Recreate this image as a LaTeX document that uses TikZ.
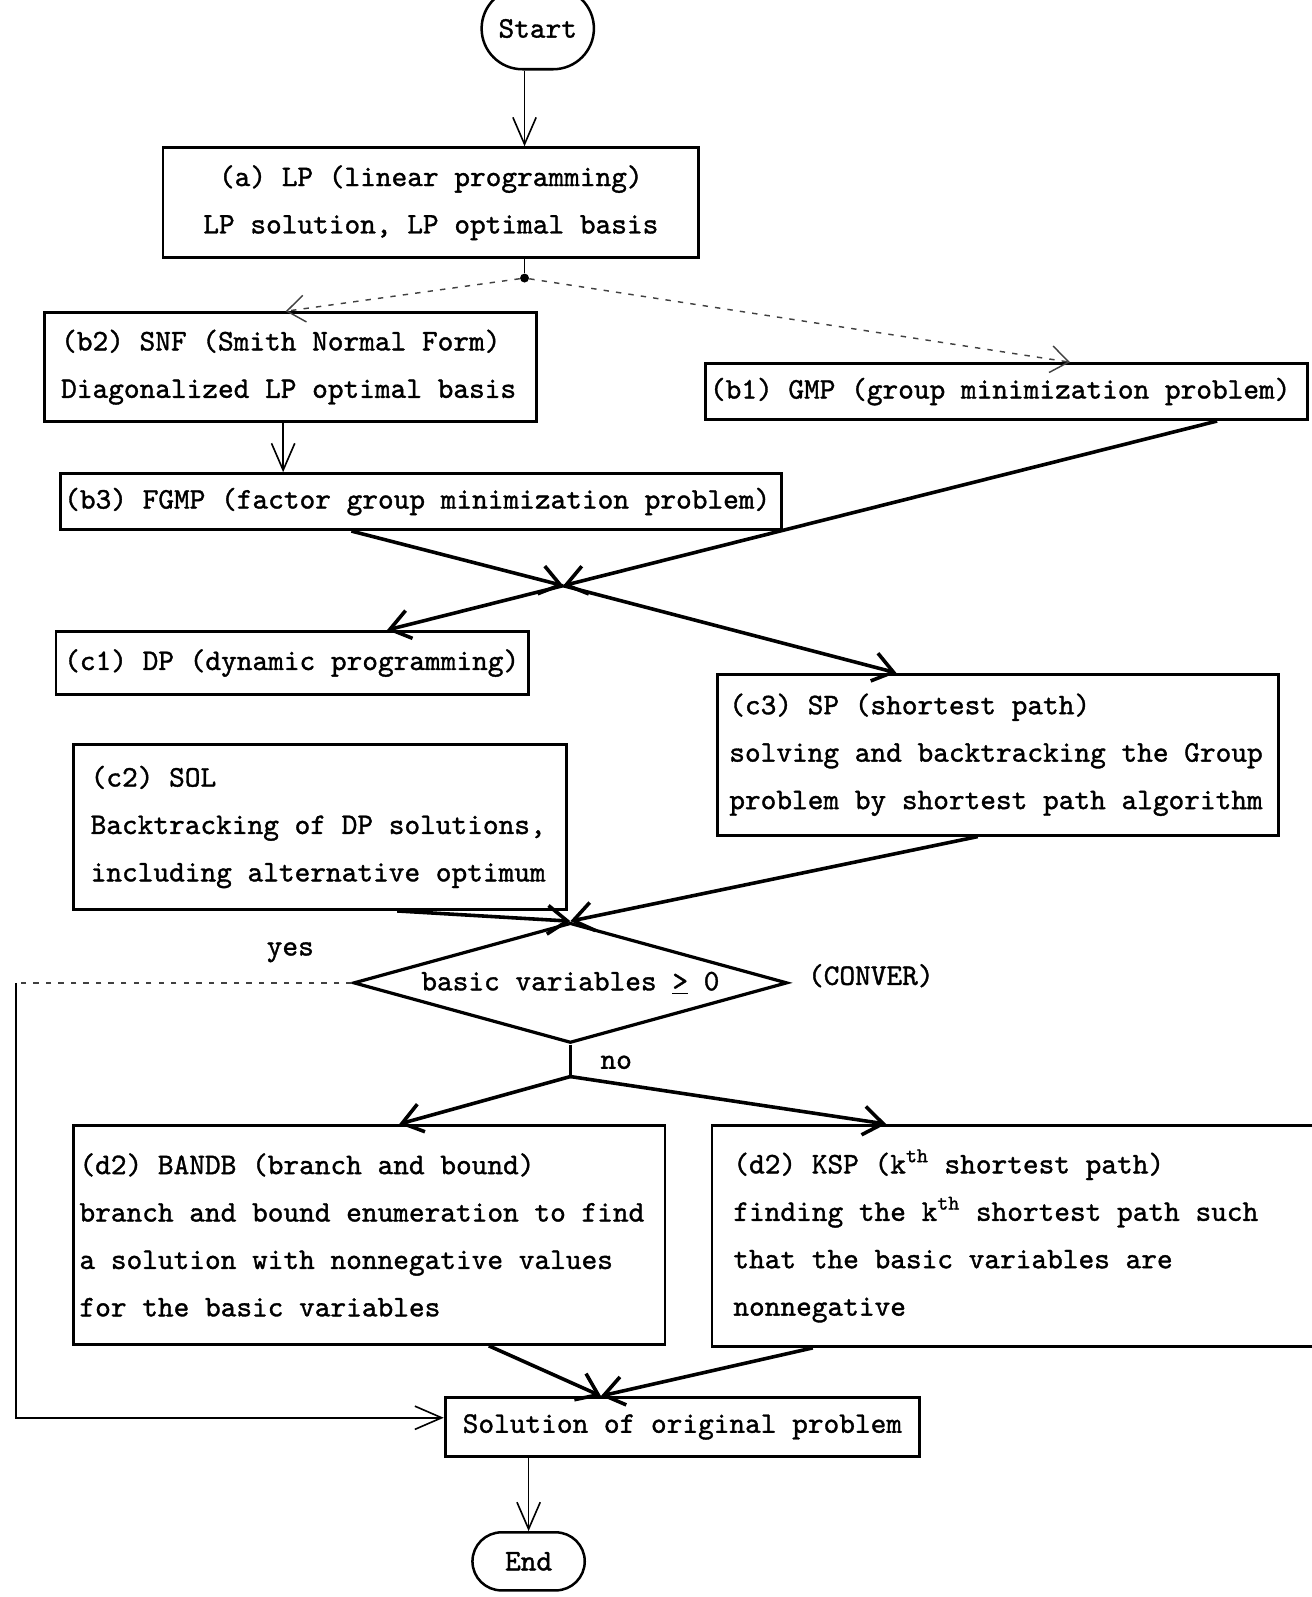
\documentclass[tikz,border=0pt]{standalone}
\usepackage{fontspec}
\newfontfamily\typer{lmmono10-regular}[Extension=.otf, FakeBold=1.2]
\usetikzlibrary{arrows.meta, shapes.misc, shapes.geometric}

\begin{document}
\begin{tikzpicture}[
    x=0.02cm, y=-0.02cm,
    txt/.style={font=\typer\fontsize{16.7}{26.5}\selectfont},
    box/.style={
        draw=black, rectangle, line width=1.6pt, align=flush left, txt,
        inner ysep=0pt
    },
    term/.style={
        draw=black, rounded rectangle, line width=1.4pt, txt, minimum width=2.44cm
    },
    test/.style={
        draw=black, diamond, shape aspect=3.6, line width=1.8pt, txt, inner sep=0pt,
        minimum width=8.52cm, minimum height=2.36cm
    },
    dotnode/.style={circle, fill=black, inner sep=0pt, minimum size=5pt},
    thinarrow/.style={-{Straight Barb[length=15pt, width=13pt]}, line width=0.9pt},
    arrow/.style={-{Straight Barb[length=11pt, width=16pt]}, line width=2pt},
    dashedarrow/.style={
        -{Straight Barb[length=10pt, width=15pt]}, line width=0.8pt, black!75,
        dash pattern=on 3pt off 4pt
    },
    lbl/.style={txt, inner sep=1pt}
]
\useasboundingbox (0,0) rectangle (1288,1568);

\node[term, minimum height=1.6cm] (start) at (528,28) {Start};
\node[box, align=center, minimum width=10.52cm, minimum height=2.16cm] (lp) at (423,199)
    {(a) LP (linear programming)\\LP solution, LP optimal basis};
\node[dotnode] (split) at (515,273) {};

\node[box, text width=9.02cm, inner xsep=0.32cm, minimum height=2.14cm] (snf) at (285.5,360.5)
    {(b2) SNF (Smith Normal Form)\\Diagonalized LP optimal basis};
\node[box, text width=11.66cm, inner xsep=0.08cm, minimum height=1.1cm] (gmp) at (988.5,384.5)
    {(b1) GMP (group minimization problem)};
\node[box, text width=14.0cm, inner xsep=0.08cm, minimum height=1.1cm] (fgmp) at (413,492.5)
    {(b3) FGMP (factor group minimization problem)};
\coordinate (cross) at (553,575);

\node[box, text width=8.96cm, inner xsep=0.16cm, minimum height=1.24cm] (dp) at (287,651)
    {(c1) DP (dynamic programming)};
\node[box, text width=10.54cm, inner xsep=0.24cm, minimum height=3.16cm] (sp) at (979.5,741)
    {(c3) SP (shortest path)\\solving and backtracking the Group\\problem by shortest path algorithm};
\node[box, text width=9.0cm, inner xsep=0.34cm, minimum height=3.24cm] (sol) at (314,812)
    {(c2) SOL\\Backtracking of DP solutions,\\including alternative optimum\\[2pt]};

\node[test] (conv) at (560,965) {basic variables \underline{>} 0};
\node[lbl] (convname) at (855,958) {(CONVER)};
\node[lbl] (yes) at (285,935) {yes};
\node[lbl] (no) at (605,1043) {no};
\coordinate (nosplit) at (560,1057);
\coordinate (yesturn) at (16,965);

\node[box, text width=11.38cm, inner xsep=0.12cm, minimum height=4.3cm] (bandb) at (362.5,1212.5)
    {(d2) BANDB (branch and bound)\\branch and bound enumeration to find\\a solution with nonnegative values\\for the basic variables\\[8pt]};
\node[box, text width=11.38cm, inner xsep=0.42cm, minimum height=4.34cm] (ksp) at (1004.5,1213.5)
    {(d2) KSP (k\textsuperscript{th} shortest path)\\finding the k\textsuperscript{th} shortest path such\\that the basic variables are\\nonnegative};

\node[box, align=center, minimum width=9.32cm, minimum height=1.16cm] (orig) at (670,1401)
    {Solution of original problem};
\node[term, minimum height=1.14cm] (stop) at (519,1533) {End};

\draw[thinarrow] ([xshift=-0.26cm]start.south) -- ([xshift=-0.26cm]start.south |- lp.north);
\draw[line width=0.9pt] (lp.south -| split) -- (split);
\draw[dashedarrow] (split) -- ([xshift=-0.1cm]snf.north);
\draw[dashedarrow] (split) -- ([xshift=1.24cm]gmp.north);
\draw[thinarrow] ([xshift=-0.15cm]snf.south) -- ([xshift=-0.15cm]snf.south |- fgmp.north);

\draw[arrow] ([xshift=-1.36cm]fgmp.south) -- (cross);
\draw[arrow] ([xshift=4.13cm]gmp.south) -- (cross);
\draw[arrow] (cross) -- ([xshift=1.86cm]dp.north);
\draw[arrow] (cross) -- ([xshift=-1.99cm]sp.north);

\draw[arrow] ([xshift=1.52cm]sol.south) -- (conv.north);
\draw[arrow] ([xshift=-0.39cm]sp.south) -- (conv.north);

\draw[dashedarrow, -] (conv.west) -- (yesturn);
\draw[thinarrow] (yesturn) |- ([yshift=0.18cm]orig.west);

\draw[arrow, -] (conv.south) -- (nosplit);
\draw[arrow] (nosplit) -- ([xshift=0.59cm]bandb.north);
\draw[arrow] (nosplit) -- ([xshift=-2.69cm]ksp.north);

\draw[arrow] ([xshift=2.35cm]bandb.south) -- ([xshift=-1.6cm]orig.north);
\draw[arrow] ([xshift=-4.13cm]ksp.south) -- ([xshift=-1.6cm]orig.north);
\draw[thinarrow] (stop.north |- orig.south) -- (stop.north);

\end{tikzpicture}
\end{document}
